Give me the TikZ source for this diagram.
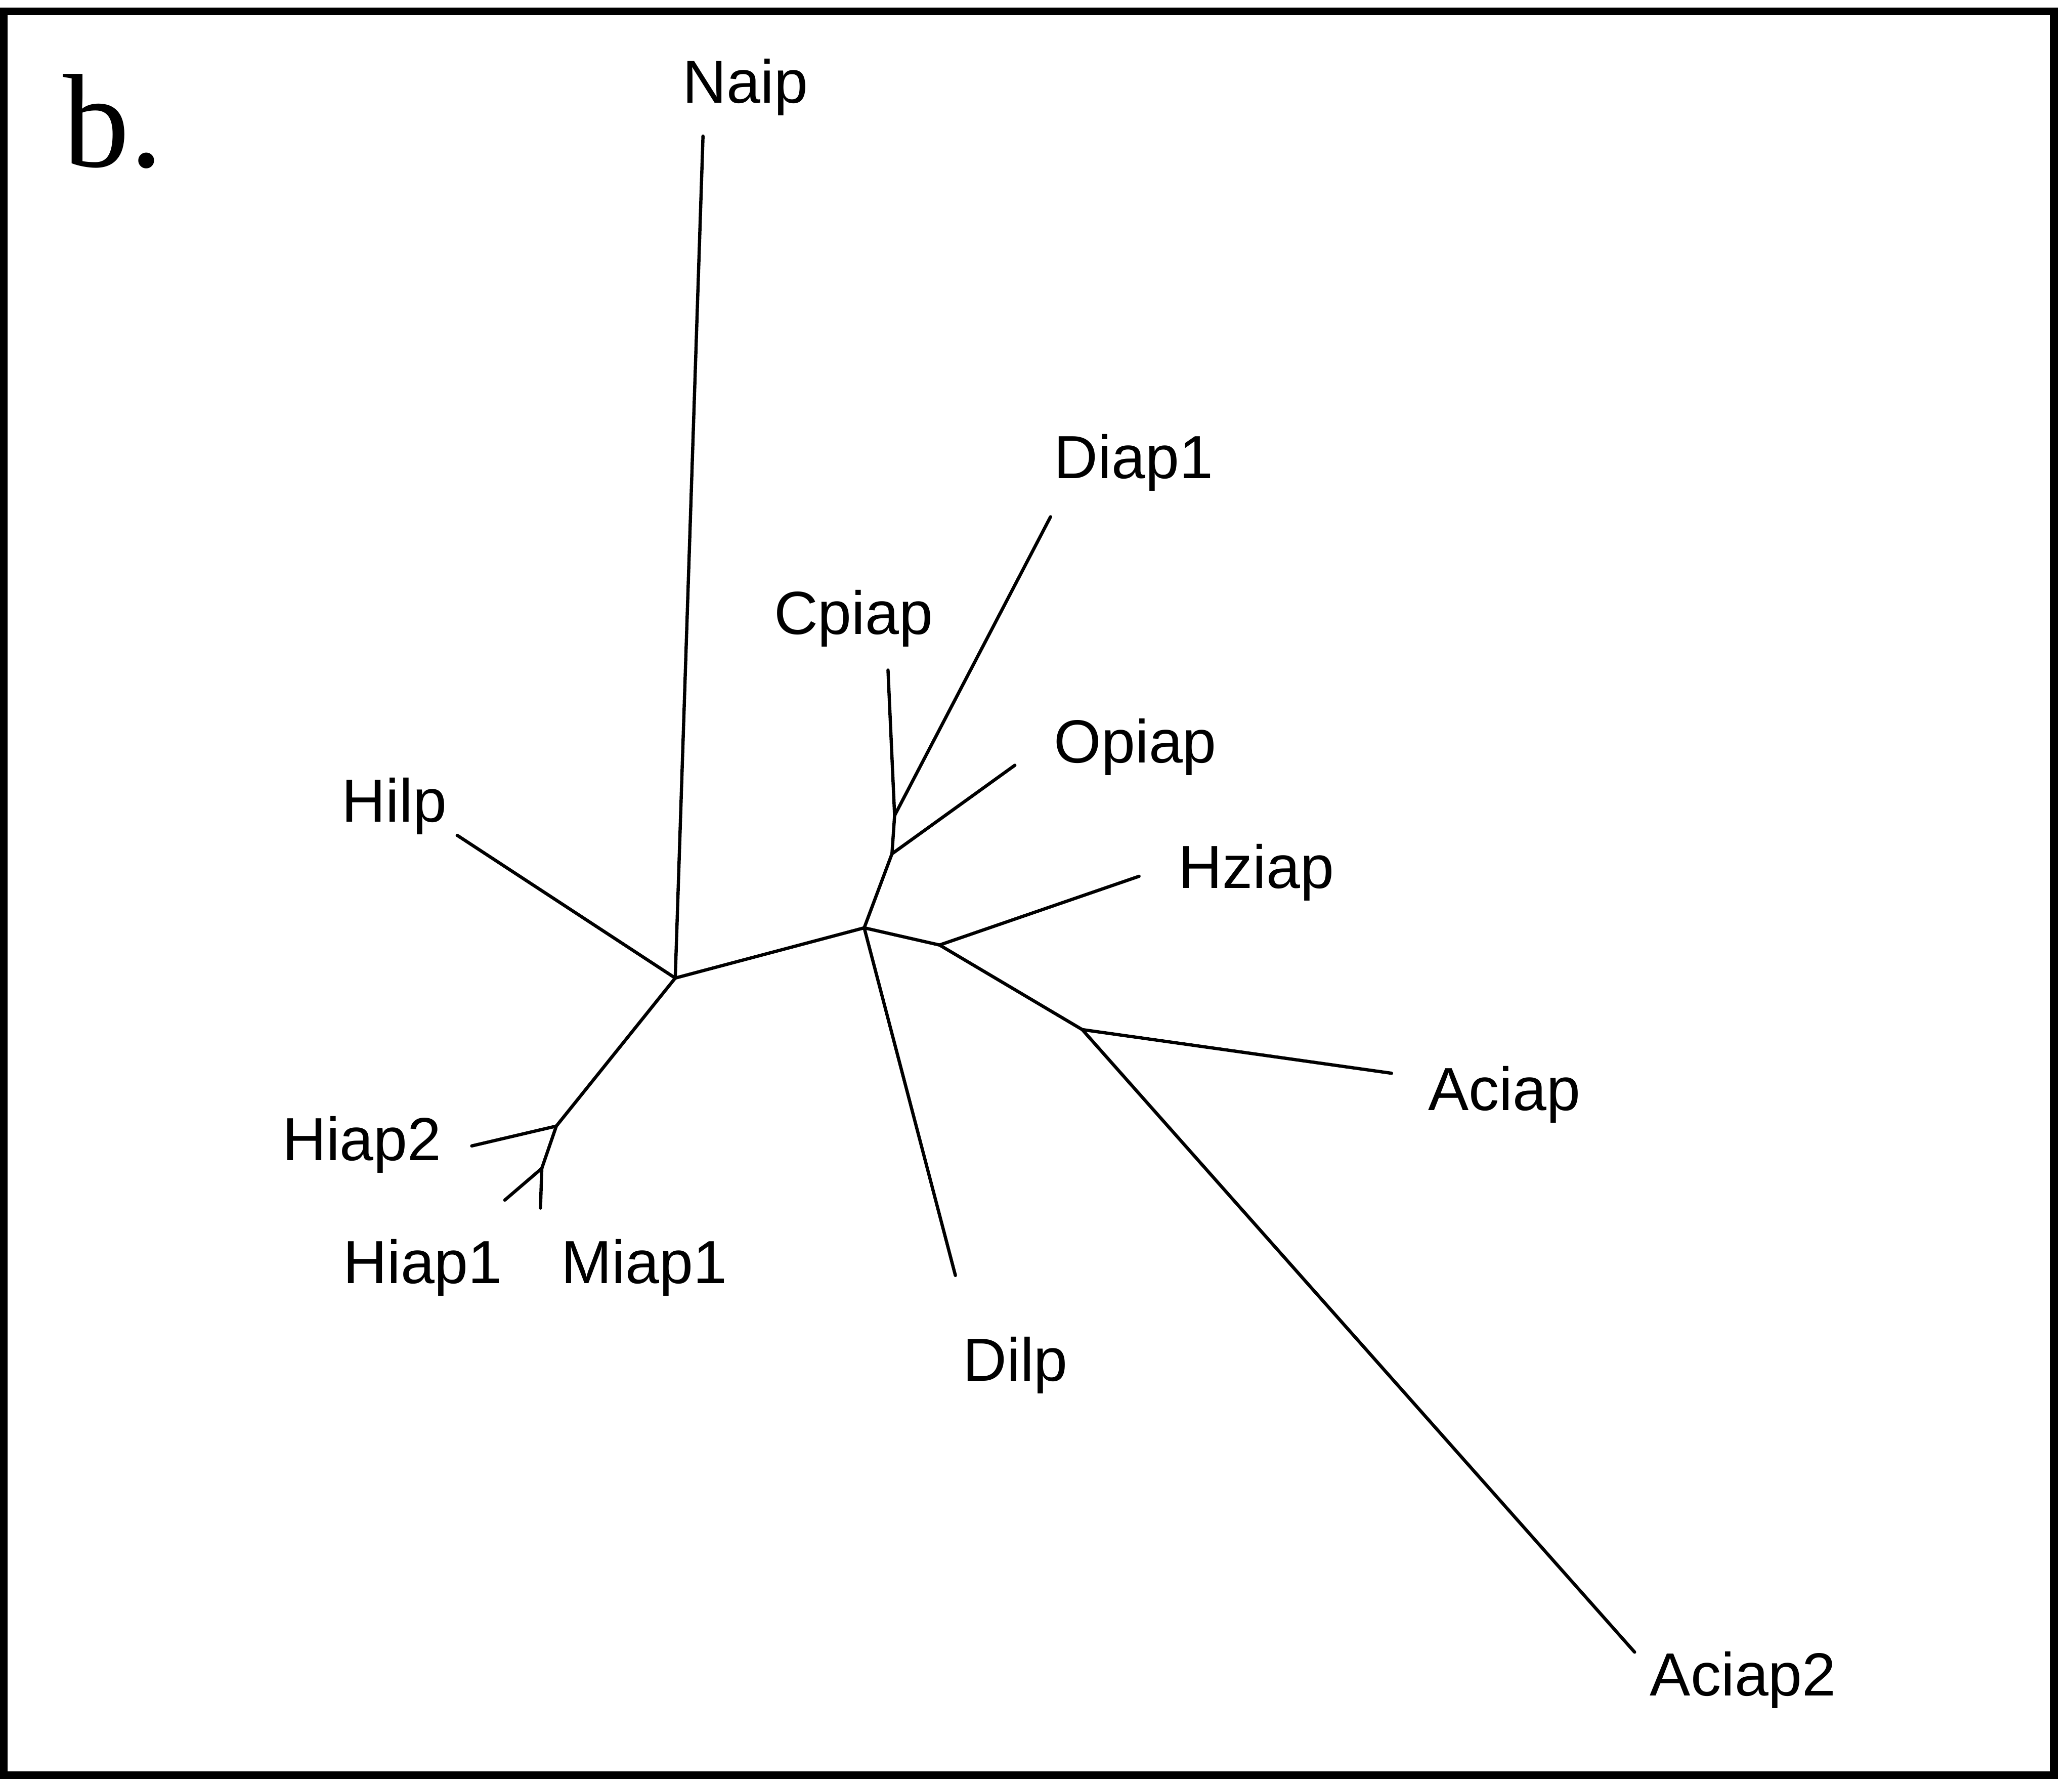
\documentclass[tikz,border=0pt]{standalone}
\usepackage{fontspec}
\newfontfamily\taxonfont{Liberation Sans}
\newfontfamily\panelfont{Liberation Serif}
\begin{document}
\begin{tikzpicture}[x=0.01cm,y=-0.01cm,
  branch/.style={line width=0.7pt,line cap=round,line join=round},
  taxon/.style={anchor=base west,inner sep=0pt,font=\taxonfont\fontsize{13.1}{15}\selectfont},
  frame/.style={line width=1.6pt}]
\useasboundingbox (0,0) rectangle (1568,1348);
\draw[frame] (3,8.5) rectangle (1554.5,1343);
\node[anchor=base west,inner sep=0pt,font=\panelfont\fontsize{28.7}{30}\selectfont] (panel) at (47,126) {b.};

% internal branch points
\coordinate (nA) at (511,740);
\coordinate (nB) at (421,852);
\coordinate (nC) at (410,884);
\coordinate (nD) at (654,702);
\coordinate (nE) at (675,646);
\coordinate (nF) at (677,617);
\coordinate (nG) at (711,715);
\coordinate (nH) at (819,779);

% leaf tips
\coordinate (tNaip) at (532,103);
\coordinate (tHilp) at (346,632);
\coordinate (tHiap2) at (357,867);
\coordinate (tHiap1) at (382,908);
\coordinate (tMiap1) at (409,914);
\coordinate (tCpiap) at (672,507);
\coordinate (tDiap1) at (795,391);
\coordinate (tOpiap) at (768,579);
\coordinate (tHziap) at (862,663);
\coordinate (tAciap) at (1053,812);
\coordinate (tAciap2) at (1237,1250);
\coordinate (tDilp) at (723,965);

% tree
\draw[branch] (nA) -- (tNaip);
\draw[branch] (nA) -- (tHilp);
\draw[branch] (nA) -- (nB);
\draw[branch] (nB) -- (tHiap2);
\draw[branch] (nB) -- (nC);
\draw[branch] (nC) -- (tHiap1);
\draw[branch] (nC) -- (tMiap1);
\draw[branch] (nA) -- (nD);
\draw[branch] (nD) -- (nE);
\draw[branch] (nE) -- (tOpiap);
\draw[branch] (nE) -- (nF);
\draw[branch] (nF) -- (tCpiap);
\draw[branch] (nF) -- (tDiap1);
\draw[branch] (nD) -- (tDilp);
\draw[branch] (nD) -- (nG);
\draw[branch] (nG) -- (tHziap);
\draw[branch] (nG) -- (nH);
\draw[branch] (nH) -- (tAciap);
\draw[branch] (nH) -- (tAciap2);

% taxon labels
\node[taxon] (Naip) at (516,78) {Naip};
\node[taxon] (Diap1) at (797,362) {Diap1};
\node[taxon] (Cpiap) at (585,480) {Cpiap};
\node[taxon] (Opiap) at (797,577) {Opiap};
\node[taxon] (Hilp) at (258,622) {Hilp};
\node[taxon] (Hziap) at (891,672) {Hziap};
\node[taxon] (Aciap) at (1080,840) {Aciap};
\node[taxon] (Hiap2) at (213,878) {Hiap2};
\node[taxon] (Hiap1) at (259,971) {Hiap1};
\node[taxon] (Miap1) at (424,971) {Miap1};
\node[taxon] (Dilp) at (728,1045) {Dilp};
\node[taxon] (Aciap2) at (1248,1283) {Aciap2};
\end{tikzpicture}
\end{document}
